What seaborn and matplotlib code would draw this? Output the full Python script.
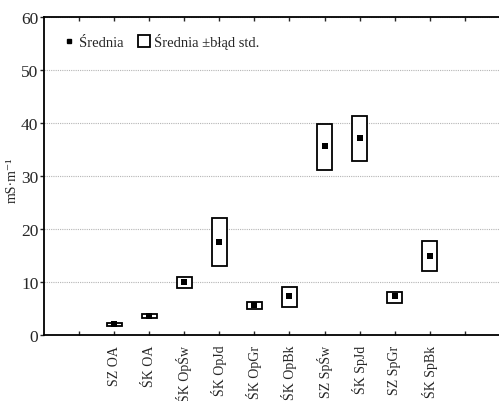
import matplotlib
matplotlib.use("Agg")
import matplotlib.pyplot as plt
from matplotlib.lines import Line2D
import seaborn as sns
import pandas as pd

# dane: srednia i srednia +/- blad std.
kategorie = ['SZ OA', 'ŚK OA', 'ŚK OpŚw', 'ŚK OpJd', 'ŚK OpGr',
             'ŚK OpBk', 'SZ SpŚw', 'ŚK SpJd', 'SZ SpGr', 'ŚK SpBk']
srednia = [2.0, 3.6, 10.1, 17.6, 5.6, 7.4, 35.7, 37.2, 7.3, 15.0]
dolna = [1.8, 3.3, 8.9, 13.1, 4.9, 5.3, 31.1, 32.8, 6.1, 12.1]
gorna = [2.25, 4.0, 11.0, 22.1, 6.3, 9.0, 39.9, 41.4, 8.2, 17.7]

df = pd.DataFrame({'grupa': kategorie, 'srednia': srednia,
                   'dolna': dolna, 'gorna': gorna})

sns.set_style("ticks")
plt.rcParams['font.family'] = ['Liberation Serif', 'DejaVu Serif']

fig = plt.figure(figsize=(4.99, 4.02), dpi=100)
ax = fig.add_axes([0.088, 0.164, 0.914, 0.791])

# prostokaty: srednia +/- blad std.
ax.bar(df['grupa'], df['gorna'] - df['dolna'], bottom=df['dolna'], width=0.43,
       facecolor='white', edgecolor='black', linewidth=1.3, zorder=3)

sns.scatterplot(data=df, x='grupa', y='srednia', marker='s', color='black',
                s=14, linewidth=0, ax=ax, zorder=4)

ax.set_xlim(-2, 11)
ax.set_ylim(0, 60)
ax.set_xticks(range(-1, 11))
ax.set_xticklabels([''] + kategorie + [''], rotation=90, fontsize=10)
ax.set_yticks(range(0, 61, 10))
ax.tick_params(axis='y', labelsize=12.5, direction='out', length=3, width=1, pad=1)
ax.tick_params(axis='x', direction='in', length=3, width=1, top=True, pad=7)

ax.grid(axis='y', linestyle=(0, (1, 1)), color='#b5b5b5', linewidth=0.8, zorder=0)
for s in ['left', 'bottom', 'top']:
    ax.spines[s].set_linewidth(1.3)
    ax.spines[s].set_color('black')
ax.spines['right'].set_visible(False)

ax.set_xlabel('')
ax.set_ylabel('mS·m⁻¹', fontsize=10)
ax.yaxis.set_label_coords(-0.055, 0.49)

uchwyty = [
    Line2D([], [], marker='s', linestyle='none', color='black', markersize=3.5),
    Line2D([], [], marker='s', linestyle='none', markerfacecolor='white',
           markeredgecolor='black', markeredgewidth=1.3, markersize=9),
]
ax.legend(uchwyty, ['Średnia', 'Średnia ±błąd std.'], loc='upper left',
          bbox_to_anchor=(0.007, 0.99), ncol=2, frameon=False, fontsize=10.5,
          handletextpad=0.1, columnspacing=0.8, handlelength=1.2)

fig.savefig('out.png', dpi=100)
